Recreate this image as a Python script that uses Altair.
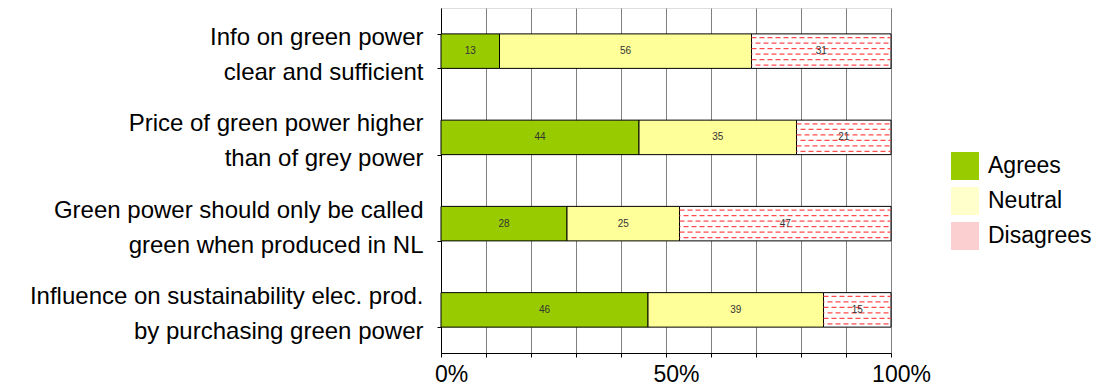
import altair as alt
import pandas as pd

categories = [
    "Info on green power|clear and sufficient",
    "Price of green power higher|than of grey power",
    "Green power should only be called|green when produced in NL",
    "Influence on sustainability elec. prod.|by purchasing green power",
]
responses = ["Agrees", "Neutral", "Disagrees"]
agrees = [13, 44, 28, 46]
neutral = [56, 35, 25, 39]
disagrees = [31, 21, 47, 15]
x_ticks = [0, 10, 20, 30, 40, 50, 60, 70, 80, 90, 100]
x_labelled = [0, 50, 100]

rows = []
for i, q in enumerate(categories):
    start = 0
    for r, vals in zip(responses, [agrees, neutral, disagrees]):
        v = vals[i]
        rows.append({"question": q, "response": r, "value": v,
                     "start": start, "end": start + v, "mid": start + v / 2})
        start += v
df = pd.DataFrame(rows)

FONT = "Liberation Sans"

x_enc = alt.X("start:Q", scale=alt.Scale(domain=[0, 100], nice=False),
              axis=alt.Axis(values=x_ticks, title=None,
                            labelExpr="indexof([" + ",".join(str(v) for v in x_labelled) + "], datum.value) >= 0 ? datum.value + '%' : ''",
                            grid=True, gridColor="#808080", gridOpacity=1, gridWidth=1,
                            domainColor="black", tickColor="black", tickSize=4,
                            labelFontSize=23, labelFont=FONT, labelColor="black",
                            labelPadding=6, labelOffset=10, labelFlush=False))
y_enc = alt.Y("question:N", sort=categories,
              scale=alt.Scale(paddingInner=0.6, paddingOuter=0.3),
              axis=alt.Axis(title=None, labelExpr="split(datum.label, '|')",
                            tickBand="extent", grid=False, domainColor="black",
                            tickColor="black", tickSize=4, labelFontSize=24,
                            labelFont=FONT, labelColor="black", labelPadding=14,
                            labelLineHeight=35, labelLimit=600, labelAlign="right",
                            labelOffset=-13.5))

bars = alt.Chart(df).mark_bar(stroke="black", strokeWidth=1).encode(
    x=x_enc,
    x2="end:Q",
    y=y_enc,
    color=alt.Color(
        "response:N",
        scale=alt.Scale(domain=responses, range=["#99cc00", "#ffffcc", "#fbcfcf"]),
        legend=alt.Legend(title=None, orient="none", legendX=510, legendY=144,
                          symbolType="square", symbolSize=784, symbolStrokeWidth=0,
                          labelFontSize=23, labelFont=FONT, labelColor="black",
                          labelOffset=9, rowPadding=7, padding=0),
        condition=[
            {"test": "datum.response === 'Neutral'", "value": "#ffff99"},
            {"test": "datum.response === 'Disagrees'", "value": "white"},
        ],
    ),
)

dis = df[df["response"] == "Disagrees"]
offsets = [-13.5, -8, -2.5, 3, 8.5, 14]
dash_layers = []
for k, off in enumerate(offsets):
    dash_layers.append(
        alt.Chart(dis).mark_rule(color="#ff4d4d", strokeWidth=1.3, strokeDash=[5, 3],
                                 strokeDashOffset=(k % 2) * 4, yOffset=off).encode(
            x="start:Q", x2="end:Q", y=alt.Y("question:N", sort=categories))
    )

texts = alt.Chart(df).mark_text(fontSize=10, color="#333333", font=FONT).encode(
    x="mid:Q", y=alt.Y("question:N", sort=categories), text="value:Q")

chart = alt.layer(bars, *dash_layers, texts).properties(
    width=450, height=345,
    autosize=alt.AutoSizeParams(type="none"),
    padding={"left": 441, "top": 8, "right": 212, "bottom": 34},
).configure_view(stroke="#a0a0a0", strokeWidth=1).configure(background="white")

chart.save("out.html", embed_options={"renderer": "svg", "actions": False})
